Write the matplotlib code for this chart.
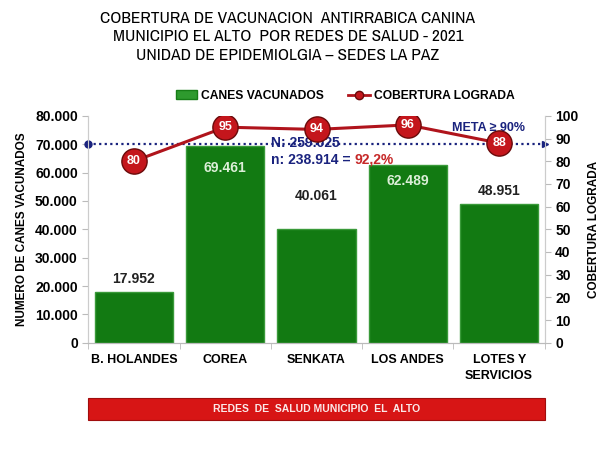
import matplotlib
matplotlib.use("Agg")
import matplotlib.pyplot as plt
from matplotlib import font_manager
import numpy as np
from matplotlib.lines import Line2D
from matplotlib.patches import Patch, FancyBboxPatch
from matplotlib.offsetbox import TextArea, HPacker, AnnotationBbox

plt.rcParams['font.family'] = ['Liberation Sans', 'DejaVu Sans']

# datos
redes = ['B. HOLANDES', 'COREA', 'SENKATA', 'LOS ANDES', 'LOTES Y\nSERVICIOS']
canes = [17952, 69461, 40061, 62489, 48951]
cobertura = [80, 95, 94, 96, 88]
cob_labels = ['80', '95', '94', '96', '88']
# desplazamiento de la etiqueta respecto al tope de la barra
lab_off = [4600, -7700, 11500, -5600, 4600]
meta = 70000  # linea punteada de meta (eje izquierdo)
titulos = ['COBERTURA DE VACUNACION  ANTIRRABICA CANINA',
           'MUNICIPIO EL ALTO  POR REDES DE SALUD - 2021',
           'UNIDAD DE EPIDEMIOLGIA \u2013 SEDES LA PAZ']

names = sorted({f.name for f in font_manager.fontManager.ttflist})
narrow = [n for n in names if 'Narrow' in n or 'Condensed' in n]

fig = plt.figure(figsize=(6, 4.67), dpi=100)
ax = fig.add_axes([0.147, 0.266, 0.761, 0.486])
ax2 = ax.twinx()

x = np.arange(len(redes))
bars = ax.bar(x, canes, width=0.86, color='#127a12', edgecolor='#3a9a3a', linewidth=1.0, zorder=2)

def fmt(v):
    return f"{v:,}".replace(',', '.')

for xi, v, off in zip(x, canes, lab_off):
    col = '#dcefd8' if off < 0 else '#222222'
    ax.text(xi, v + off, fmt(v), ha='center', va='center', color=col,
            fontsize=10, fontweight='bold', zorder=3)

ax.set_ylim(0, 80000)
ax.set_xlim(-0.5, 4.5)
ax.set_yticks(np.arange(0, 80001, 10000))
ax.set_yticklabels([fmt(v) for v in range(0, 80001, 10000)], fontsize=10, fontweight='bold')
ax.set_xticks(x)
ax.set_xticklabels(redes, fontsize=9, fontweight='bold', linespacing=1.5)
ax.set_xticks(np.arange(-0.5, 5, 1), minor=True)
ax.tick_params(axis='x', which='major', length=0, pad=8)
ax.tick_params(axis='x', which='minor', length=4, color='#bbbbbb')
ax.tick_params(axis='y', length=4, color='#bbbbbb')
ax.set_ylabel('NUMERO DE CANES VACUNADOS', fontsize=8.5, fontweight='bold', labelpad=5)

# linea de meta
ax.plot([-0.5, 4.5], [meta, meta], linestyle=(0, (1, 1.5)), color='#1a237e', lw=1.6, zorder=4, clip_on=False)
ax.plot([-0.5], [meta], 'o', color='#1a237e', ms=5, zorder=5, clip_on=False)
ax.plot([4.5], [meta], '>', color='#1a237e', ms=5, zorder=5, clip_on=False)

for a in (ax, ax2):
    a.spines['top'].set_visible(False)
    a.spines['left'].set_color('#cccccc')
    a.spines['right'].set_color('#cccccc')
    a.spines['bottom'].set_color('#bbbbbb')

ax2.plot(x, cobertura, color='#b0141c', lw=2.2, zorder=6)
ax2.scatter(x, cobertura, s=330, color='#c4161c', edgecolor='#6a0a0a', linewidth=1.0, zorder=7)
for xi, v, lab in zip(x, cobertura, cob_labels):
    ax2.text(xi, v, lab, ha='center', va='center', color='white', fontsize=9,
             fontweight='bold', zorder=8)
ax2.set_ylim(0, 100)
ax2.set_yticks(np.arange(0, 101, 10))
ax2.set_yticklabels([str(v) for v in range(0, 101, 10)], fontsize=10, fontweight='bold')
ax2.tick_params(axis='y', length=4, color='#bbbbbb')
ax2.set_ylabel('COBERTURA LOGRADA', fontsize=8.5, fontweight='bold', labelpad=7)

# anotaciones
ax.text(1.5, 70300, 'N: 259.025', ha='left', va='center', color='#1a237e', fontsize=10,
        fontweight='bold', zorder=9)
tp = dict(fontsize=10, fontweight='bold')
pack = HPacker(children=[TextArea('n: 238.914 = ', textprops=dict(color='#1a237e', **tp)),
                         TextArea('92,2%', textprops=dict(color='#c62828', **tp))],
               align='baseline', pad=0, sep=0)
ab = AnnotationBbox(pack, (1.5, 64500), xycoords='data', box_alignment=(0, 0.5),
                    frameon=False, pad=0)
ab.set_zorder(9)
ax.add_artist(ab)
ax.text(3.48, 75600, 'META ≥ 90%', ha='left', va='center', color='#1a237e', fontsize=9,
        fontweight='bold', zorder=9)

# titulo, una linea por texto
fam = [narrow[0], 'DejaVu Sans'] if narrow else ['Liberation Sans', 'DejaVu Sans']
fs = 12.5 if narrow else 11
for i, linea in enumerate(titulos):
    fig.text(0.48, 0.961 - i * 0.0395, linea, ha='center', va='center', fontsize=fs, family=fam)

# leyenda
handles = [Patch(facecolor='#2e9a2e', edgecolor='#177d17', label='CANES VACUNADOS'),
           Line2D([0], [0], color='#b0141c', lw=2, marker='o', ms=6,
                  markerfacecolor='#c4161c', markeredgecolor='#6a0a0a', label='COBERTURA LOGRADA')]
fig.legend(handles=handles, loc='center', bbox_to_anchor=(0.575, 0.795), ncol=2, frameon=False,
           prop={'weight': 'bold', 'size': 8.7}, handlelength=1.8, handletextpad=0.3,
           columnspacing=2.0)

# recuadro inferior
box = FancyBboxPatch((0.147, 0.101), 0.761, 0.046, boxstyle='square,pad=0',
                     transform=fig.transFigure, facecolor='#d71515', edgecolor='#a00d0d', lw=0.8)
fig.patches.append(box)
fig.text(0.527, 0.124, 'REDES  DE  SALUD MUNICIPIO  EL  ALTO', ha='center', va='center',
         color='#fbe9e9', fontsize=7.5, fontweight='bold')

fig.savefig('out.png', dpi=100)
